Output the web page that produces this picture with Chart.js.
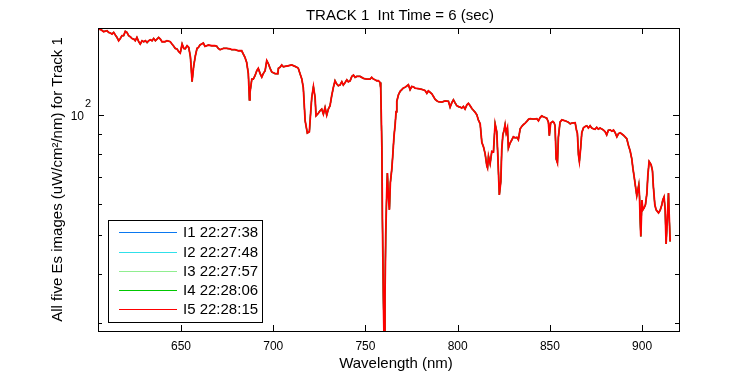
<!DOCTYPE html>
<html>
<head>
<meta charset="utf-8">
<script src="https://cdn.jsdelivr.net/npm/chart.js@4/dist/chart.umd.min.js"></script>
<style>
  html, body { margin: 0; padding: 0; background: #fff; }
  #wrap { width: 750px; height: 375px; position: relative; }
</style>
</head>
<body>
<div id="wrap"><canvas id="c" width="750" height="375"></canvas></div>
<script>
// ---- Data ----
const wavelength = [
605.4,606.6,608.1,609.9,610.8,611.7,612.6,613.5,614.4,615.3,616.2,617.1,618.0,618.9,619.8,620.7,621.6,622.5,623.4,624.4,
625.2,626.1,627.1,627.9,628.9,629.8,630.7,631.6,632.5,633.4,634.3,635.2,636.1,637.0,637.9,638.8,639.7,641.3,642.4,644.2,
645.1,646.1,646.9,647.8,648.8,649.6,650.6,651.5,652.3,653.3,654.2,655.1,655.6,656.0,656.9,657.8,658.7,659.4,660.3,661.2,
662.1,663.0,664.0,664.8,666.7,668.4,669.4,670.2,671.2,672.1,673.0,674.8,676.6,677.5,679.3,681.1,682.9,683.8,684.7,685.6,
686.5,687.1,687.4,688.4,689.2,690.1,691.1,691.9,692.9,693.8,694.6,695.6,696.5,697.4,698.3,699.2,701.0,702.5,702.8,703.7,
704.6,705.5,706.4,708.2,710.0,711.8,712.8,713.6,714.5,715.5,716.3,716.7,717.3,717.8,718.5,719.6,720.3,720.9,721.8,722.7,
723.2,724.5,725.4,726.3,727.2,728.1,729.0,729.9,730.8,731.7,732.6,733.5,734.4,735.3,736.2,737.2,738.0,739.0,739.9,740.7,
741.7,742.6,743.5,744.4,745.3,747.1,748.9,750.7,752.5,753.4,754.3,755.2,756.1,757.0,757.9,758.3,758.9,759.2,759.7,760.3,
760.6,761.0,761.6,761.9,762.4,763.0,763.5,764.3,764.8,765.5,766.1,766.6,767.0,767.9,768.8,769.7,770.6,771.5,772.4,773.3,
774.2,775.1,776.0,776.9,778.7,780.5,782.3,783.3,784.1,785.0,786.0,786.8,787.8,788.7,789.5,791.4,793.2,795.0,795.9,796.8,
797.7,798.6,799.5,800.4,801.3,802.2,803.1,804.0,805.0,805.8,806.7,807.7,808.5,809.5,810.4,811.2,812.2,813.1,814.0,814.9,
815.8,816.2,816.7,817.6,818.5,819.4,820.3,821.2,821.8,822.3,822.6,823.4,823.9,824.5,825.2,825.7,826.3,827.0,827.5,828.4,
829.4,830.2,831.1,832.1,832.9,833.9,834.8,835.6,836.6,837.5,838.4,839.3,841.1,842.9,843.8,844.7,845.6,846.5,848.3,849.2,
849.7,850.4,851.6,852.3,852.8,853.4,854.1,854.6,855.5,856.5,858.3,860.0,861.0,861.9,863.7,864.5,864.9,865.5,866.0,866.6,
867.3,868.2,869.1,870.0,870.9,871.8,872.7,873.6,874.5,875.4,876.3,877.2,879.0,880.0,880.8,881.7,882.7,883.6,884.5,885.4,
886.3,887.2,888.1,889.9,891.7,892.6,893.5,894.4,895.0,895.7,896.4,897.1,897.7,898.2,898.6,898.9,899.3,899.9,900.4,901.1,
901.8,902.6,903.1,903.8,904.4,904.9,905.6,906.1,906.9,907.6,908.9,909.8,910.7,911.2,911.9,912.5,913.0,913.7,914.3,914.7,
915.2
];
const esTrack1 = [
165.0,164.4,162.5,163.4,161.8,161.3,160.3,161.8,159.4,157.2,154.2,156.2,158.8,158.8,162.8,161.8,158.8,157.9,156.2,155.7,
154.2,157.2,153.3,151.3,154.2,153.3,154.2,152.6,154.2,155.1,154.2,156.2,154.2,155.7,157.2,155.7,153.3,153.3,154.2,153.3,
151.3,149.3,147.5,147.0,144.7,143.6,151.3,147.5,147.2,149.8,148.3,140.4,130.4,121.6,133.4,141.4,147.5,148.3,150.4,151.3,
152.2,149.3,149.8,150.4,149.8,149.8,149.3,147.5,146.4,147.0,147.5,147.5,147.0,146.4,146.4,145.5,145.5,142.7,140.0,136.0,
127.5,109.5,114.2,123.5,123.5,125.9,129.6,131.4,127.5,124.9,127.5,129.6,137.4,134.9,131.4,128.7,127.5,127.4,131.4,132.2,
134.0,132.6,132.9,133.4,134.0,132.9,132.2,131.4,127.5,123.5,117.6,108.9,97.0,94.2,90.3,91.0,101.8,111.0,118.3,111.0,
99.8,101.4,102.8,103.8,100.8,104.8,100.2,103.8,105.8,112.1,117.6,122.3,120.0,118.8,119.3,121.6,119.3,121.1,123.0,121.6,
122.3,125.4,126.4,124.7,125.4,125.4,124.0,123.5,123.5,124.7,123.5,123.0,122.3,122.3,121.1,116.6,83.9,54.9,35.1,24.0,
35.1,50.1,65.8,71.7,62.8,57.9,67.7,73.4,79.2,88.9,94.8,102.2,108.5,112.8,115.0,116.1,117.3,117.8,118.6,119.5,
116.1,118.3,118.1,117.1,116.9,116.4,115.6,113.7,115.3,114.4,113.4,111.8,109.8,108.9,108.3,108.1,108.8,108.6,105.0,107.6,
109.5,107.6,105.9,105.3,105.0,104.4,105.4,103.8,106.4,107.3,105.9,104.1,103.1,101.8,100.4,97.5,95.3,85.6,83.4,80.1,
74.7,73.8,79.0,75.6,81.2,81.0,95.3,91.0,78.7,68.3,63.1,68.3,82.0,89.4,92.0,94.8,90.3,93.0,82.8,85.2,
86.9,88.4,87.9,88.1,86.9,92.6,93.9,94.8,95.7,96.7,97.8,98.2,97.9,98.2,97.0,98.8,99.8,99.3,98.5,96.2,
88.9,95.7,96.6,95.9,94.2,77.8,76.0,88.1,96.2,97.5,97.0,96.2,95.3,95.7,95.9,91.5,90.3,79.6,76.6,82.0,
90.5,93.1,93.8,94.2,93.0,94.2,93.0,92.6,92.4,93.4,92.4,93.0,92.0,91.0,89.4,91.8,92.0,91.3,91.9,90.5,
88.4,90.0,90.5,89.2,87.4,84.1,81.5,77.8,73.7,70.1,66.3,62.8,65.0,66.9,62.5,55.2,49.6,61.3,57.9,58.6,
59.6,63.8,70.5,76.6,75.8,75.1,72.7,66.3,59.6,57.9,56.9,57.8,59.6,61.3,62.4,57.9,47.5,55.2,63.8,55.7,
48.2
];
// the five images overlap within a pixel in the picture: same readings for each
const es_I1 = esTrack1;
const es_I2 = esTrack1;
const es_I3 = esTrack1;
const es_I4 = esTrack1;
const es_I5 = esTrack1;

const seriesLabels = ['I1 22:27:38', 'I2 22:27:48', 'I3 22:27:57', 'I4 22:28:06', 'I5 22:28:15'];
const seriesColors = ['#0a78f0', '#30e0ea', '#90ee90', '#00c800', '#ff0000'];
const seriesWidths = [1.2, 1.2, 1.2, 1.2, 1.8];
const xTicks = [650, 700, 750, 800, 850, 900];
const yMajorTicks = [100];
const yMinorTicks = [30, 40, 50, 60, 70, 80, 90];
const xRange = [605, 920];
const yRange = [28.7, 166];
const titleText = 'TRACK 1  Int Time = 6 (sec)';
const xTitle = 'Wavelength (nm)';
const yTitle = 'All five Es images (uW/cm\u00B2/nm) for Track 1';

const FONT = '"Liberation Sans", Arial, Helvetica, sans-serif';
const allSeries = [es_I1, es_I2, es_I3, es_I4, es_I5];

const datasets = allSeries.map((vals, k) => ({
  label: seriesLabels[k],
  data: wavelength.map((w, i) => ({ x: w, y: vals[i] })),
  borderColor: seriesColors[k],
  backgroundColor: seriesColors[k],
  borderWidth: seriesWidths[k],
  pointRadius: 0,
  fill: false,
  tension: 0,
  order: 5 - k
}));

const decor = {
  id: 'decor',
  beforeDraw(chart) {
    const ctx = chart.ctx;
    ctx.save();
    ctx.fillStyle = '#fff';
    ctx.fillRect(0, 0, chart.width, chart.height);
    ctx.restore();
  },
  afterDraw(chart) {
    const ctx = chart.ctx;
    const a = chart.chartArea;
    const xs = chart.scales.x, ys = chart.scales.y;
    ctx.save();
    ctx.strokeStyle = '#000';
    ctx.lineWidth = 1;
    // frame
    ctx.strokeRect(a.left + 0.5, a.top + 0.5, a.right - a.left, a.bottom - a.top);
    // ticks, inward on all four sides
    ctx.beginPath();
    xTicks.forEach(v => {
      const px = Math.round(xs.getPixelForValue(v)) + 0.5;
      ctx.moveTo(px, a.bottom); ctx.lineTo(px, a.bottom - 6);
      ctx.moveTo(px, a.top); ctx.lineTo(px, a.top + 6);
    });
    yMajorTicks.forEach(v => {
      const py = Math.round(ys.getPixelForValue(v)) + 0.5;
      ctx.moveTo(a.left, py); ctx.lineTo(a.left + 6, py);
      ctx.moveTo(a.right, py); ctx.lineTo(a.right - 6, py);
    });
    yMinorTicks.forEach(v => {
      const py = Math.round(ys.getPixelForValue(v)) + 0.5;
      ctx.moveTo(a.left, py); ctx.lineTo(a.left + 4, py);
      ctx.moveTo(a.right, py); ctx.lineTo(a.right - 4, py);
    });
    ctx.stroke();

    ctx.fillStyle = '#000';
    // x tick labels
    ctx.font = '12px ' + FONT;
    ctx.textAlign = 'center';
    ctx.textBaseline = 'alphabetic';
    xTicks.forEach(v => {
      ctx.fillText(String(v), xs.getPixelForValue(v), a.bottom + 19);
    });
    // y tick label 10^2
    yMajorTicks.forEach(v => {
      const py = ys.getPixelForValue(v);
      const ex = Math.round(Math.log10(v));
      ctx.font = '12px ' + FONT;
      ctx.textAlign = 'right';
      ctx.fillText('10', a.left - 14, py + 4.5);
      ctx.textAlign = 'left';
      ctx.font = '11px ' + FONT;
      ctx.fillText(String(ex), a.left - 13, py - 8);
    });
    // title
    ctx.font = '15px ' + FONT;
    ctx.textAlign = 'center';
    ctx.fillText(titleText, 400, 20);
    // x axis title
    ctx.fillText(xTitle, 396, 368);
    // y axis title
    ctx.save();
    ctx.translate(62, (a.top + a.bottom) / 2);
    ctx.rotate(-Math.PI / 2);
    ctx.textAlign = 'center';
    ctx.textBaseline = 'alphabetic';
    ctx.fillText(yTitle, 0, 0);
    ctx.restore();

    // legend box
    const lx = 108.5, ly = 220.5, lw = 154, lh = 102;
    ctx.fillStyle = '#fff';
    ctx.fillRect(lx, ly, lw, lh);
    ctx.strokeStyle = '#000';
    ctx.lineWidth = 1;
    ctx.strokeRect(lx, ly, lw, lh);
    ctx.font = '15px ' + FONT;
    ctx.textAlign = 'left';
    ctx.textBaseline = 'middle';
    seriesLabels.forEach((lab, k) => {
      const cy = Math.round(232.3 + k * 19.2) + 0.5;
      ctx.strokeStyle = seriesColors[k];
      ctx.beginPath();
      ctx.moveTo(119, cy); ctx.lineTo(177, cy);
      ctx.stroke();
      ctx.fillStyle = '#000';
      ctx.fillText(lab, 183, cy + 0.5);
    });
    ctx.restore();
  }
};

new Chart(document.getElementById('c'), {
  type: 'line',
  data: { datasets },
  options: {
    responsive: false,
    animation: false,
    events: [],
    layout: { padding: { left: 98, top: 28, right: 71, bottom: 44 } },
    plugins: { legend: { display: false }, title: { display: false }, tooltip: { enabled: false } },
    scales: {
      x: {
        type: 'linear', display: false, bounds: 'data',
        min: xRange[0], max: xRange[1],
        afterBuildTicks: s => { s.min = xRange[0]; s.max = xRange[1]; }
      },
      y: {
        type: 'logarithmic', display: false, bounds: 'data',
        min: yRange[0], max: yRange[1],
        afterBuildTicks: s => { s.min = yRange[0]; s.max = yRange[1]; }
      }
    }
  },
  plugins: [decor]
});
</script>
</body>
</html>
